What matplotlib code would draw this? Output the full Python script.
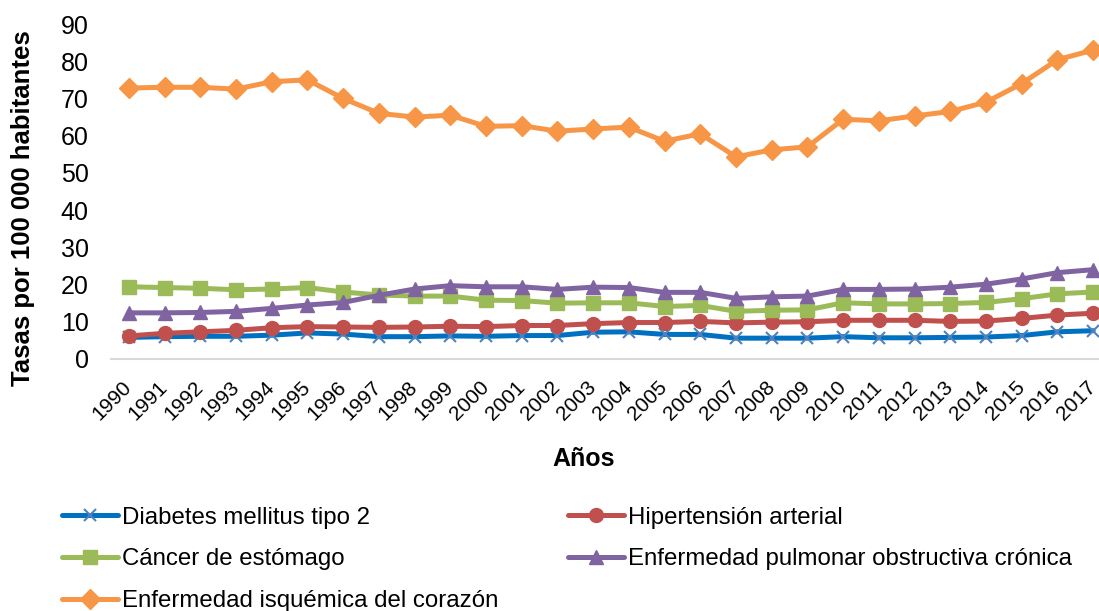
import matplotlib
matplotlib.use("Agg")
import matplotlib.pyplot as plt
import numpy as np

plt.rcParams['font.family'] = ['Liberation Sans', 'DejaVu Sans']

anios = [str(a) for a in range(1990, 2018)]

diabetes = [5.8, 6.0, 6.1, 6.1, 6.4, 7.0, 6.7, 6.0, 6.0, 6.2, 6.1, 6.3, 6.3, 7.2,
            7.3, 6.6, 6.6, 5.6, 5.6, 5.6, 6.0, 5.7, 5.7, 5.8, 5.9, 6.3, 7.3, 7.6]
hipertension = [6.2, 6.9, 7.3, 7.7, 8.4, 8.7, 8.6, 8.5, 8.6, 8.8, 8.7, 9.0, 9.0, 9.5,
                9.8, 9.8, 10.1, 9.7, 9.9, 10.0, 10.4, 10.4, 10.4, 10.1, 10.2, 10.9, 11.8, 12.3]
cancer = [19.4, 19.2, 19.0, 18.6, 18.8, 19.2, 18.0, 17.2, 16.9, 16.9, 15.8, 15.7, 15.0, 15.1,
          15.1, 14.1, 14.4, 12.8, 13.1, 13.2, 15.1, 14.8, 14.8, 14.9, 15.2, 16.2, 17.5, 18.0]
epoc = [12.4, 12.4, 12.5, 12.8, 13.6, 14.5, 15.2, 17.1, 18.8, 19.7, 19.4, 19.4, 18.7, 19.3,
        19.2, 17.9, 17.9, 16.3, 16.7, 16.9, 18.7, 18.7, 18.8, 19.3, 20.1, 21.5, 23.2, 24.0]
isquemica = [72.8, 73.0, 73.0, 72.5, 74.5, 75.0, 70.0, 66.0, 65.0, 65.5, 62.5, 62.7, 61.2, 61.8,
             62.3, 58.5, 60.5, 54.3, 56.2, 57.0, 64.4, 64.0, 65.3, 66.5, 69.0, 74.0, 80.4, 83.0]

series = [
    ("Diabetes mellitus tipo 2", diabetes, "#0070C0", "x", "#4F81BD"),
    ("Hipertensión arterial", hipertension, "#C0504D", "o", "#C0504D"),
    ("Cáncer de estómago", cancer, "#9BBB59", "s", "#9BBB59"),
    ("Enfermedad pulmonar obstructiva crónica", epoc, "#8064A2", "^", "#8064A2"),
    ("Enfermedad isquémica del corazón", isquemica, "#F79646", "D", "#F79646"),
]

fig = plt.figure(figsize=(10.99, 6.11), dpi=100)
ax = fig.add_axes([111 / 1099, 1 - 359 / 611, 1000 / 1099, 335 / 611])

x = np.arange(len(anios))
handles = []
for nombre, vals, col, mk, mcol in series:
    ms = 10 if mk != "x" else 9
    h, = ax.plot(x, vals, color=col, lw=3.6, marker=mk, markersize=ms,
                 markerfacecolor=mcol, markeredgecolor=mcol,
                 markeredgewidth=1.5 if mk == "x" else 1,
                 label=nombre, solid_capstyle='round')
    handles.append(h)

ax.set_xlim(-0.5, len(anios) - 0.5)
ax.set_ylim(0, 90)
ax.set_yticks(range(0, 91, 10))
ax.set_xticks(x)
ax.set_xticklabels(anios, rotation=45, ha='right', va='center',
                   rotation_mode='anchor', fontsize=15)
ax.tick_params(axis='y', labelsize=18, length=0, pad=16)
ax.tick_params(axis='x', length=0, pad=18)
for s in ['top', 'right', 'left']:
    ax.spines[s].set_visible(False)
ax.spines['bottom'].set_color('#D9D9D9')
ax.spines['bottom'].set_linewidth(1.5)

fig.text(23 / 1099, 1 - 208 / 611, "Tasas por 100 000 habitantes", rotation=90,
         fontsize=18.5, fontweight='bold', ha='center', va='center')
fig.text(584 / 1099, 1 - 459 / 611, "Años", fontsize=18, fontweight='bold',
         ha='center', va='center')

# orden por filas como en el original
orden = [0, 2, 4, 1, 3]
fig.legend(handles=[handles[i] for i in orden], loc='upper left',
           bbox_to_anchor=(52 / 1099, 1 - 497 / 611),
           ncol=2, frameon=False, fontsize=17.3, handlelength=2.35, handletextpad=0.15,
           columnspacing=2.9, labelspacing=0.82, borderaxespad=0)

fig.savefig("out.png", dpi=100)
